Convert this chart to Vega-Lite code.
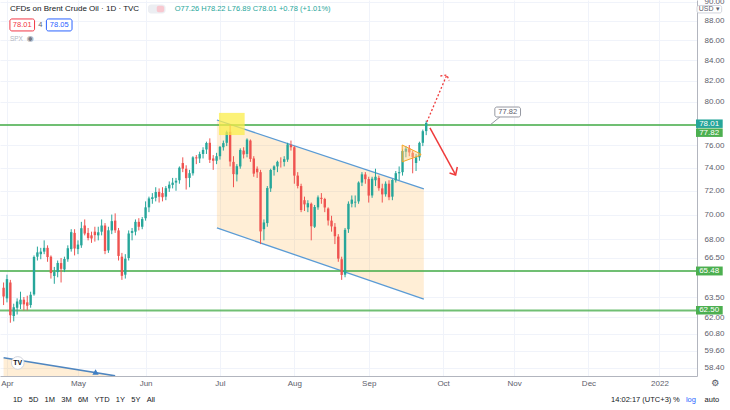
{
  "$schema": "https://vega.github.io/schema/vega-lite/v6.json",
  "width": 697,
  "height": 376,
  "autosize": "none",
  "padding": {"left": 0, "top": 0, "right": 33, "bottom": 34},
  "background": "white",
  "config": {"view": {"stroke": null}, "font": "Liberation Sans"},
  "data": {"values": [{}]},
  "resolve": {"axis": {"x": "independent", "y": "independent"}},
  "datasets": {
    "candles": [
      {"bar": -1, "date": "2021-03-31", "o": 64.2, "h": 64.6, "l": 62.9, "c": 63.54},
      {"bar": 0, "date": "2021-04-01", "o": 63.4, "h": 65.2, "l": 63.1, "c": 64.86},
      {"bar": 1, "date": "2021-04-05", "o": 64.6, "h": 64.8, "l": 61.6, "c": 62.15},
      {"bar": 2, "date": "2021-04-06", "o": 62.1, "h": 63.0, "l": 61.7, "c": 62.74},
      {"bar": 3, "date": "2021-04-07", "o": 62.7, "h": 63.4, "l": 62.2, "c": 63.16},
      {"bar": 4, "date": "2021-04-08", "o": 62.95, "h": 63.9, "l": 62.6, "c": 63.3},
      {"bar": 5, "date": "2021-04-09", "o": 63.3, "h": 63.5, "l": 62.5, "c": 62.95},
      {"bar": 6, "date": "2021-04-12", "o": 63.1, "h": 63.6, "l": 62.5, "c": 62.85},
      {"bar": 7, "date": "2021-04-13", "o": 62.9, "h": 63.9, "l": 62.7, "c": 63.67},
      {"bar": 8, "date": "2021-04-14", "o": 63.7, "h": 66.7, "l": 63.6, "c": 66.58},
      {"bar": 9, "date": "2021-04-15", "o": 66.6, "h": 67.4, "l": 66.3, "c": 66.94},
      {"bar": 10, "date": "2021-04-16", "o": 66.8, "h": 67.3, "l": 66.4, "c": 67.0},
      {"bar": 11, "date": "2021-04-19", "o": 67.0, "h": 67.9, "l": 66.8, "c": 67.3},
      {"bar": 12, "date": "2021-04-20", "o": 67.3, "h": 67.5, "l": 66.2, "c": 66.57},
      {"bar": 13, "date": "2021-04-21", "o": 66.6, "h": 66.7, "l": 64.9, "c": 65.32},
      {"bar": 14, "date": "2021-04-22", "o": 65.1, "h": 65.8, "l": 64.5, "c": 65.4},
      {"bar": 15, "date": "2021-04-23", "o": 65.4, "h": 66.3, "l": 65.0, "c": 66.11},
      {"bar": 16, "date": "2021-04-26", "o": 66.1, "h": 66.5, "l": 64.6, "c": 65.65},
      {"bar": 17, "date": "2021-04-27", "o": 65.6, "h": 66.6, "l": 65.4, "c": 66.42},
      {"bar": 18, "date": "2021-04-28", "o": 66.4, "h": 67.5, "l": 66.2, "c": 67.27},
      {"bar": 19, "date": "2021-04-29", "o": 67.2, "h": 68.8, "l": 67.0, "c": 68.56},
      {"bar": 20, "date": "2021-04-30", "o": 68.5, "h": 68.8, "l": 66.7, "c": 67.25},
      {"bar": 21, "date": "2021-05-03", "o": 67.2, "h": 67.9, "l": 66.8, "c": 67.56},
      {"bar": 22, "date": "2021-05-04", "o": 67.5, "h": 69.4, "l": 67.3, "c": 68.88},
      {"bar": 23, "date": "2021-05-05", "o": 69.1, "h": 69.6, "l": 68.3, "c": 68.45},
      {"bar": 24, "date": "2021-05-06", "o": 68.5, "h": 68.9, "l": 67.9, "c": 68.09},
      {"bar": 25, "date": "2021-05-07", "o": 68.3, "h": 68.6, "l": 67.7, "c": 68.05},
      {"bar": 26, "date": "2021-05-10", "o": 68.6, "h": 69.0, "l": 67.8, "c": 68.32},
      {"bar": 27, "date": "2021-05-11", "o": 68.3, "h": 69.0, "l": 67.9, "c": 68.55},
      {"bar": 28, "date": "2021-05-12", "o": 68.6, "h": 69.6, "l": 68.3, "c": 69.1},
      {"bar": 29, "date": "2021-05-13", "o": 69.1, "h": 69.3, "l": 66.8, "c": 67.05},
      {"bar": 30, "date": "2021-05-14", "o": 67.1, "h": 69.0, "l": 66.9, "c": 68.71},
      {"bar": 31, "date": "2021-05-17", "o": 68.7, "h": 70.0, "l": 68.4, "c": 69.46},
      {"bar": 32, "date": "2021-05-18", "o": 69.5, "h": 70.1, "l": 68.5, "c": 68.71},
      {"bar": 33, "date": "2021-05-19", "o": 68.7, "h": 68.9, "l": 66.3, "c": 66.66},
      {"bar": 34, "date": "2021-05-20", "o": 66.6, "h": 66.9, "l": 64.8, "c": 65.11},
      {"bar": 35, "date": "2021-05-21", "o": 65.2, "h": 66.8, "l": 64.9, "c": 66.44},
      {"bar": 36, "date": "2021-05-24", "o": 66.5, "h": 68.7, "l": 66.3, "c": 68.46},
      {"bar": 37, "date": "2021-05-25", "o": 68.5, "h": 68.9, "l": 67.9, "c": 68.65},
      {"bar": 38, "date": "2021-05-26", "o": 68.6, "h": 69.6, "l": 68.3, "c": 69.4},
      {"bar": 39, "date": "2021-05-27", "o": 69.4, "h": 69.7, "l": 68.7, "c": 69.0},
      {"bar": 40, "date": "2021-05-28", "o": 69.0, "h": 69.8, "l": 68.8, "c": 69.63},
      {"bar": 41, "date": "2021-06-01", "o": 69.7, "h": 71.1, "l": 69.5, "c": 70.6},
      {"bar": 42, "date": "2021-06-02", "o": 70.6, "h": 71.5, "l": 70.2, "c": 71.35},
      {"bar": 43, "date": "2021-06-03", "o": 71.3, "h": 71.8, "l": 70.9, "c": 71.45},
      {"bar": 44, "date": "2021-06-04", "o": 71.4, "h": 72.3, "l": 71.1, "c": 71.89},
      {"bar": 45, "date": "2021-06-07", "o": 71.9, "h": 72.2, "l": 71.0, "c": 71.49},
      {"bar": 46, "date": "2021-06-08", "o": 71.8, "h": 72.3, "l": 71.1, "c": 71.45},
      {"bar": 47, "date": "2021-06-09", "o": 71.5, "h": 72.4, "l": 71.2, "c": 72.22},
      {"bar": 48, "date": "2021-06-10", "o": 72.2, "h": 72.8, "l": 71.9, "c": 72.52},
      {"bar": 49, "date": "2021-06-11", "o": 72.5, "h": 73.1, "l": 72.2, "c": 72.69},
      {"bar": 50, "date": "2021-06-14", "o": 72.7, "h": 73.1, "l": 72.0, "c": 72.86},
      {"bar": 51, "date": "2021-06-15", "o": 72.9, "h": 74.1, "l": 72.6, "c": 73.99},
      {"bar": 52, "date": "2021-06-16", "o": 74.4, "h": 74.9, "l": 73.6, "c": 73.9},
      {"bar": 53, "date": "2021-06-17", "o": 73.9, "h": 74.2, "l": 72.1, "c": 73.08},
      {"bar": 54, "date": "2021-06-18", "o": 73.1, "h": 73.8, "l": 72.3, "c": 73.51},
      {"bar": 55, "date": "2021-06-21", "o": 73.5, "h": 75.0, "l": 73.3, "c": 74.9},
      {"bar": 56, "date": "2021-06-22", "o": 74.9, "h": 75.1, "l": 74.3, "c": 74.81},
      {"bar": 57, "date": "2021-06-23", "o": 74.8, "h": 75.4, "l": 74.4, "c": 75.19},
      {"bar": 58, "date": "2021-06-24", "o": 75.2, "h": 75.8, "l": 74.8, "c": 75.56},
      {"bar": 59, "date": "2021-06-25", "o": 75.6, "h": 76.3, "l": 75.2, "c": 76.18},
      {"bar": 60, "date": "2021-06-28", "o": 76.2, "h": 76.6, "l": 74.4, "c": 74.68},
      {"bar": 61, "date": "2021-06-29", "o": 74.8, "h": 75.1, "l": 73.8, "c": 74.6},
      {"bar": 62, "date": "2021-06-30", "o": 74.6, "h": 75.3, "l": 74.3, "c": 75.0},
      {"bar": 63, "date": "2021-07-01", "o": 75.0, "h": 75.9, "l": 74.7, "c": 75.84},
      {"bar": 64, "date": "2021-07-02", "o": 75.8, "h": 76.4, "l": 75.5, "c": 76.17},
      {"bar": 65, "date": "2021-07-05", "o": 76.2, "h": 77.3, "l": 75.9, "c": 77.16},
      {"bar": 66, "date": "2021-07-06", "o": 77.2, "h": 77.84, "l": 74.1, "c": 74.53},
      {"bar": 67, "date": "2021-07-07", "o": 74.5, "h": 75.0, "l": 72.3, "c": 73.43},
      {"bar": 68, "date": "2021-07-08", "o": 73.4, "h": 74.3, "l": 72.8, "c": 74.12},
      {"bar": 69, "date": "2021-07-09", "o": 74.1, "h": 75.7, "l": 73.9, "c": 75.55},
      {"bar": 70, "date": "2021-07-12", "o": 75.5, "h": 75.8, "l": 74.8, "c": 75.16},
      {"bar": 71, "date": "2021-07-13", "o": 75.2, "h": 76.6, "l": 74.9, "c": 76.49},
      {"bar": 72, "date": "2021-07-14", "o": 76.4, "h": 76.5, "l": 74.5, "c": 74.76},
      {"bar": 73, "date": "2021-07-15", "o": 74.8, "h": 75.0, "l": 73.2, "c": 73.47},
      {"bar": 74, "date": "2021-07-16", "o": 73.9, "h": 74.1, "l": 73.1, "c": 73.59},
      {"bar": 75, "date": "2021-07-19", "o": 73.6, "h": 73.8, "l": 67.6, "c": 68.62},
      {"bar": 76, "date": "2021-07-20", "o": 68.8, "h": 69.6, "l": 67.9, "c": 69.35},
      {"bar": 77, "date": "2021-07-21", "o": 69.3, "h": 72.4, "l": 69.0, "c": 72.23},
      {"bar": 78, "date": "2021-07-22", "o": 72.2, "h": 73.9, "l": 71.9, "c": 73.79},
      {"bar": 79, "date": "2021-07-23", "o": 73.8, "h": 74.2, "l": 73.3, "c": 74.1},
      {"bar": 80, "date": "2021-07-26", "o": 74.1, "h": 74.6, "l": 73.6, "c": 74.5},
      {"bar": 81, "date": "2021-07-27", "o": 74.5, "h": 74.9, "l": 74.0, "c": 74.48},
      {"bar": 82, "date": "2021-07-28", "o": 74.5, "h": 75.0, "l": 74.1, "c": 74.74},
      {"bar": 83, "date": "2021-07-29", "o": 74.7, "h": 76.2, "l": 74.5, "c": 76.05},
      {"bar": 84, "date": "2021-07-30", "o": 76.0, "h": 76.4, "l": 75.5, "c": 75.8},
      {"bar": 85, "date": "2021-08-02", "o": 75.8, "h": 75.9, "l": 72.6, "c": 73.3},
      {"bar": 86, "date": "2021-08-03", "o": 73.3, "h": 73.6, "l": 72.2, "c": 72.41},
      {"bar": 87, "date": "2021-08-04", "o": 72.4, "h": 72.6, "l": 70.2, "c": 70.38},
      {"bar": 88, "date": "2021-08-05", "o": 71.2, "h": 71.5, "l": 70.3, "c": 70.85},
      {"bar": 89, "date": "2021-08-06", "o": 70.6, "h": 71.2, "l": 70.2, "c": 70.95},
      {"bar": 90, "date": "2021-08-09", "o": 70.9, "h": 71.0, "l": 67.9, "c": 69.04},
      {"bar": 91, "date": "2021-08-10", "o": 69.0, "h": 70.8, "l": 68.9, "c": 70.63},
      {"bar": 92, "date": "2021-08-11", "o": 70.6, "h": 71.6, "l": 70.4, "c": 71.44},
      {"bar": 93, "date": "2021-08-12", "o": 71.4, "h": 71.8, "l": 70.9, "c": 71.31},
      {"bar": 94, "date": "2021-08-13", "o": 71.3, "h": 71.4, "l": 70.2, "c": 70.59},
      {"bar": 95, "date": "2021-08-16", "o": 70.5, "h": 70.6, "l": 69.1, "c": 69.51},
      {"bar": 96, "date": "2021-08-17", "o": 69.5, "h": 69.9, "l": 68.6, "c": 69.03},
      {"bar": 97, "date": "2021-08-18", "o": 69.0, "h": 69.3, "l": 67.6, "c": 68.23},
      {"bar": 98, "date": "2021-08-19", "o": 68.2, "h": 68.4, "l": 66.2, "c": 66.45},
      {"bar": 99, "date": "2021-08-20", "o": 66.4, "h": 66.6, "l": 64.8, "c": 65.18},
      {"bar": 100, "date": "2021-08-23", "o": 65.2, "h": 68.9, "l": 65.0, "c": 68.75},
      {"bar": 101, "date": "2021-08-24", "o": 68.8, "h": 71.1, "l": 68.5, "c": 70.9},
      {"bar": 102, "date": "2021-08-25", "o": 70.9, "h": 71.6, "l": 70.6, "c": 71.25},
      {"bar": 103, "date": "2021-08-26", "o": 71.0, "h": 71.6, "l": 70.6, "c": 71.07},
      {"bar": 104, "date": "2021-08-27", "o": 71.1, "h": 72.8, "l": 70.9, "c": 72.7},
      {"bar": 105, "date": "2021-08-30", "o": 72.7, "h": 73.6, "l": 72.4, "c": 73.41},
      {"bar": 106, "date": "2021-08-31", "o": 73.4, "h": 73.6, "l": 72.6, "c": 72.99},
      {"bar": 107, "date": "2021-09-01", "o": 73.0, "h": 73.2, "l": 71.0, "c": 71.59},
      {"bar": 108, "date": "2021-09-02", "o": 71.6, "h": 73.2, "l": 71.4, "c": 73.03},
      {"bar": 109, "date": "2021-09-03", "o": 72.9, "h": 73.9, "l": 72.4, "c": 73.2},
      {"bar": 110, "date": "2021-09-06", "o": 73.1, "h": 73.3, "l": 72.0, "c": 72.22},
      {"bar": 111, "date": "2021-09-07", "o": 72.2, "h": 72.6, "l": 71.0, "c": 71.69},
      {"bar": 112, "date": "2021-09-08", "o": 71.7, "h": 72.8, "l": 71.5, "c": 72.6},
      {"bar": 113, "date": "2021-09-09", "o": 72.6, "h": 72.9, "l": 71.2, "c": 71.45},
      {"bar": 114, "date": "2021-09-10", "o": 71.5, "h": 73.0, "l": 71.2, "c": 72.92},
      {"bar": 115, "date": "2021-09-13", "o": 72.9, "h": 73.7, "l": 72.7, "c": 73.51},
      {"bar": 116, "date": "2021-09-14", "o": 73.5, "h": 74.1, "l": 72.9, "c": 73.6},
      {"bar": 117, "date": "2021-09-15", "o": 73.6, "h": 75.6, "l": 73.3, "c": 75.46},
      {"bar": 118, "date": "2021-09-16", "o": 75.4, "h": 75.9, "l": 74.9, "c": 75.67},
      {"bar": 119, "date": "2021-09-17", "o": 75.7, "h": 76.0, "l": 75.0, "c": 75.34},
      {"bar": 120, "date": "2021-09-20", "o": 75.3, "h": 75.5, "l": 73.5, "c": 74.92},
      {"bar": 121, "date": "2021-09-21", "o": 74.4, "h": 75.2, "l": 73.7, "c": 74.9},
      {"bar": 122, "date": "2021-09-22", "o": 74.9, "h": 76.3, "l": 74.6, "c": 76.19},
      {"bar": 123, "date": "2021-09-23", "o": 76.2, "h": 77.4, "l": 75.9, "c": 77.25},
      {"bar": 124, "date": "2021-09-24", "o": 77.26, "h": 78.22, "l": 76.89, "c": 78.01}
    ],
    "levels": [{"price": 77.82}, {"price": 65.48}, {"price": 62.5}],
    "channel": [
      {"bar": 62.1, "up": 78.28, "lo": 68.9},
      {"bar": 123.3, "up": 72.15, "lo": 63.35}
    ],
    "oldChannel": [
      {"bar": -1, "price": 59.1},
      {"bar": 32, "price": 57.85}
    ],
    "pennant": [
      {"bar": 116.9, "top": 76.0, "bot": 74.5},
      {"bar": 122.4, "top": 75.2, "bot": 75.1}
    ],
    "arrowDown": [
      {"seg": "shaft", "k": 1, "bar": 125.1, "price": 77.55},
      {"seg": "shaft", "k": 2, "bar": 132.7, "price": 73.36},
      {"seg": "head", "k": 1, "bar": 130.9, "price": 73.53},
      {"seg": "head", "k": 2, "bar": 132.7, "price": 73.36},
      {"seg": "head", "k": 3, "bar": 133.2, "price": 74.05}
    ],
    "arrowUp": [
      {"seg": "shaft", "k": 1, "bar": 124.2, "price": 78.1},
      {"seg": "shaft", "k": 2, "bar": 130.1, "price": 82.56},
      {"seg": "head", "k": 1, "bar": 128.2, "price": 82.46},
      {"seg": "head", "k": 2, "bar": 130.1, "price": 82.56},
      {"seg": "head", "k": 3, "bar": 130.8, "price": 82.01}
    ]
  },
  "layer": [
    {
      "data": {"name": "candles"},
      "mark": {"type": "rule", "strokeWidth": 1, "opacity": 0},
      "encoding": {
        "x": {
          "field": "bar",
          "type": "quantitative",
          "scale": {"domain": [-0.583, 202.62], "nice": false, "zero": false},
          "axis": {
            "title": null,
            "values": [0, 21, 41, 63, 85, 107, 129, 150, 172, 193],
            "labelExpr": "datum.value < 10 ? 'Apr' : datum.value < 30 ? 'May' : datum.value < 50 ? 'Jun' : datum.value < 70 ? 'Jul' : datum.value < 95 ? 'Aug' : datum.value < 115 ? 'Sep' : datum.value < 140 ? 'Oct' : datum.value < 160 ? 'Nov' : datum.value < 180 ? 'Dec' : '2022'",
            "ticks": false,
            "labelPadding": 3,
            "labelFontSize": 8,
            "labelColor": "#5d606b",
            "labelOverlap": false,
            "labelFlush": false,
            "labelBound": false,
            "grid": true,
            "gridColor": "#f0f3fa",
            "domainColor": "#b2b5be"
          }
        },
        "y": {
          "field": "l",
          "type": "quantitative",
          "scale": {"type": "log", "domain": [57.84, 90.21], "nice": false, "zero": false},
          "axis": {
            "orient": "right",
            "title": null,
            "values": [58.4, 59.6, 60.8, 62, 63.5, 66.5, 68, 70, 72, 74, 76, 80, 82, 84, 86, 88, 90],
            "format": ".2f",
            "ticks": false,
            "labelPadding": 7,
            "labelFontSize": 8,
            "labelColor": "#5d606b",
            "labelOverlap": false,
            "labelFlush": false,
            "labelBound": false,
            "grid": true,
            "gridColor": "#f0f3fa",
            "domainColor": "#b2b5be"
          }
        },
        "y2": {"field": "h"}
      }
    },
    {
      "data": {"name": "oldChannel"},
      "mark": {"type": "area", "color": "#ff9800", "opacity": 0.16, "clip": true},
      "encoding": {
        "x": {"field": "bar", "type": "quantitative", "axis": null},
        "y": {"field": "price", "type": "quantitative", "axis": null},
        "y2": {"datum": 56}
      }
    },
    {
      "data": {"name": "channel"},
      "mark": {"type": "area", "color": "#ff9800", "opacity": 0.16},
      "encoding": {
        "x": {"field": "bar", "type": "quantitative", "axis": null},
        "y": {"field": "up", "type": "quantitative", "axis": null},
        "y2": {"field": "lo"}
      }
    },
    {
      "data": {"name": "channel"},
      "mark": {"type": "line", "color": "#5a9bd5", "strokeWidth": 1.3},
      "encoding": {
        "x": {"field": "bar", "type": "quantitative", "axis": null},
        "y": {"field": "up", "type": "quantitative", "axis": null}
      }
    },
    {
      "data": {"name": "channel"},
      "mark": {"type": "line", "color": "#5a9bd5", "strokeWidth": 1.3},
      "encoding": {
        "x": {"field": "bar", "type": "quantitative", "axis": null},
        "y": {"field": "lo", "type": "quantitative", "axis": null}
      }
    },
    {
      "data": {"name": "oldChannel"},
      "mark": {"type": "line", "color": "#4f86c0", "strokeWidth": 1.5, "clip": true},
      "encoding": {
        "x": {"field": "bar", "type": "quantitative", "axis": null},
        "y": {"field": "price", "type": "quantitative", "axis": null}
      }
    },
    {
      "mark": {"type": "point", "shape": "triangle-up", "filled": true, "color": "#3f7fc4", "size": 40, "opacity": 1},
      "encoding": {
        "x": {"datum": 26.2, "type": "quantitative", "axis": null},
        "y": {"datum": 58.12, "type": "quantitative", "axis": null}
      }
    },
    {
      "data": {"name": "levels"},
      "mark": {"type": "rule", "color": "#4caf50", "strokeWidth": 2, "opacity": 0.8},
      "encoding": {
        "y": {"field": "price", "type": "quantitative", "axis": null}
      }
    },
    {
      "data": {"name": "candles"},
      "mark": {"type": "rule", "strokeWidth": 1, "clip": true},
      "encoding": {
        "x": {"field": "bar", "type": "quantitative", "axis": null},
        "y": {"field": "l", "type": "quantitative", "axis": null},
        "y2": {"field": "h"},
        "color": {"condition": {"test": "datum.o <= datum.c", "value": "#26a69a"}, "value": "#ef5350"}
      }
    },
    {
      "data": {"name": "candles"},
      "mark": {"type": "bar", "size": 2.4, "clip": true},
      "encoding": {
        "x": {"field": "bar", "type": "quantitative", "axis": null},
        "y": {"field": "o", "type": "quantitative", "axis": null},
        "y2": {"field": "c"},
        "color": {"condition": {"test": "datum.o <= datum.c", "value": "#26a69a"}, "value": "#ef5350"},
        "tooltip": [
          {"field": "date", "type": "nominal"},
          {"field": "o", "type": "quantitative"},
          {"field": "h", "type": "quantitative"},
          {"field": "l", "type": "quantitative"},
          {"field": "c", "type": "quantitative"}
        ]
      }
    },
    {
      "mark": {"type": "rect", "color": "#fbee4a", "opacity": 0.75},
      "encoding": {
        "x": {"datum": 62.7, "type": "quantitative", "axis": null},
        "x2": {"datum": 70.3},
        "y": {"datum": 78.94, "type": "quantitative", "axis": null},
        "y2": {"datum": 76.9}
      }
    },
    {
      "data": {"name": "pennant"},
      "mark": {"type": "area", "fill": "#ffcc80", "fillOpacity": 0.45, "stroke": "#f5a623", "strokeWidth": 1},
      "encoding": {
        "x": {"field": "bar", "type": "quantitative", "axis": null},
        "y": {"field": "top", "type": "quantitative", "axis": null},
        "y2": {"field": "bot"}
      }
    },
    {
      "data": {"name": "arrowDown"},
      "mark": {"type": "line", "color": "#ef3b3b", "strokeWidth": 1.5},
      "encoding": {
        "x": {"field": "bar", "type": "quantitative", "axis": null},
        "y": {"field": "price", "type": "quantitative", "axis": null},
        "detail": {"field": "seg"},
        "order": {"field": "k"}
      }
    },
    {
      "data": {"name": "arrowUp"},
      "mark": {"type": "line", "color": "#ef3b3b", "strokeWidth": 1.3, "strokeDash": [2, 2]},
      "encoding": {
        "x": {"field": "bar", "type": "quantitative", "axis": null},
        "y": {"field": "price", "type": "quantitative", "axis": null},
        "detail": {"field": "seg"},
        "order": {"field": "k"}
      }
    },
    {
      "mark": {"type": "rule", "color": "#9598a1", "strokeWidth": 1},
      "encoding": {
        "x": {"datum": 142.9, "type": "quantitative", "axis": null},
        "x2": {"datum": 145.8},
        "y": {"datum": 77.82, "type": "quantitative", "axis": null},
        "y2": {"datum": 78.56}
      }
    },
    {
      "mark": {"type": "rect", "fill": "white", "stroke": "#9598a1", "strokeWidth": 1, "cornerRadius": 2},
      "encoding": {
        "x": {"datum": 144.3, "type": "quantitative", "axis": null},
        "x2": {"datum": 151.9},
        "y": {"datum": 79.49, "type": "quantitative", "axis": null},
        "y2": {"datum": 78.56}
      }
    },
    {
      "mark": {"type": "text", "text": "77.82", "fontSize": 7.5, "color": "#5d606b", "align": "center", "baseline": "middle"},
      "encoding": {
        "x": {"datum": 148.1, "type": "quantitative", "axis": null},
        "y": {"datum": 79.02, "type": "quantitative", "axis": null}
      }
    },
    {
      "mark": {"type": "point", "shape": "circle", "filled": true, "fill": "white", "stroke": "#d1d4dc", "strokeWidth": 1, "size": 160, "opacity": 1},
      "encoding": {
        "x": {"datum": 3.2, "type": "quantitative", "axis": null},
        "y": {"datum": 58.74, "type": "quantitative", "axis": null}
      }
    },
    {
      "mark": {"type": "text", "text": "TV", "fontSize": 7, "fontWeight": "bold", "color": "#131722", "align": "center", "baseline": "middle"},
      "encoding": {
        "x": {"datum": 3.2, "type": "quantitative", "axis": null},
        "y": {"datum": 58.74, "type": "quantitative", "axis": null}
      }
    },
    {
      "mark": {"type": "rect", "color": "#26a69a"},
      "encoding": {
        "x": {"datum": 203.8, "type": "quantitative", "axis": null},
        "x2": {"datum": 211.7},
        "y": {"datum": 78.33, "type": "quantitative", "axis": null},
        "y2": {"datum": 77.55}
      }
    },
    {
      "mark": {"type": "text", "text": "78.01", "fontSize": 8, "color": "white", "align": "center", "baseline": "middle"},
      "encoding": {
        "x": {"datum": 207.7, "type": "quantitative", "axis": null},
        "y": {"datum": 77.94, "type": "quantitative", "axis": null}
      }
    },
    {
      "mark": {"type": "rect", "color": "#4caf50"},
      "encoding": {
        "x": {"datum": 203.8, "type": "quantitative", "axis": null},
        "x2": {"datum": 211.7},
        "y": {"datum": 77.5, "type": "quantitative", "axis": null},
        "y2": {"datum": 76.73}
      }
    },
    {
      "mark": {"type": "text", "text": "77.82", "fontSize": 8, "color": "white", "align": "center", "baseline": "middle"},
      "encoding": {
        "x": {"datum": 207.7, "type": "quantitative", "axis": null},
        "y": {"datum": 77.11, "type": "quantitative", "axis": null}
      }
    },
    {
      "mark": {"type": "rect", "color": "#4caf50"},
      "encoding": {
        "x": {"datum": 203.8, "type": "quantitative", "axis": null},
        "x2": {"datum": 211.7},
        "y": {"datum": 65.83, "type": "quantitative", "axis": null},
        "y2": {"datum": 65.14}
      }
    },
    {
      "mark": {"type": "text", "text": "65.48", "fontSize": 8, "color": "white", "align": "center", "baseline": "middle"},
      "encoding": {
        "x": {"datum": 207.7, "type": "quantitative", "axis": null},
        "y": {"datum": 65.48, "type": "quantitative", "axis": null}
      }
    },
    {
      "mark": {"type": "rect", "color": "#4caf50"},
      "encoding": {
        "x": {"datum": 203.8, "type": "quantitative", "axis": null},
        "x2": {"datum": 211.7},
        "y": {"datum": 62.83, "type": "quantitative", "axis": null},
        "y2": {"datum": 62.2}
      }
    },
    {
      "mark": {"type": "text", "text": "62.50", "fontSize": 8, "color": "white", "align": "center", "baseline": "middle"},
      "encoding": {
        "x": {"datum": 207.7, "type": "quantitative", "axis": null},
        "y": {"datum": 62.5, "type": "quantitative", "axis": null}
      }
    },
    {
      "mark": {"type": "rect", "fill": "white", "stroke": "#d1d4dc", "strokeWidth": 1, "cornerRadius": 2},
      "encoding": {
        "x": {"datum": 204.1, "type": "quantitative", "axis": null},
        "x2": {"datum": 211.4},
        "y": {"datum": 89.63, "type": "quantitative", "axis": null},
        "y2": {"datum": 88.84}
      }
    },
    {
      "mark": {"type": "text", "text": "USD ▾", "fontSize": 7, "color": "#5d606b", "align": "center", "baseline": "middle"},
      "encoding": {
        "x": {"datum": 207.7, "type": "quantitative", "axis": null},
        "y": {"datum": 89.23, "type": "quantitative", "axis": null}
      }
    },
    {
      "mark": {"type": "text", "text": "CFDs on Brent Crude Oil · 1D · TVC", "fontSize": 8, "color": "#131722", "align": "left", "baseline": "middle"},
      "encoding": {
        "x": {"datum": 0.87, "type": "quantitative", "axis": null},
        "y": {"datum": 89.26, "type": "quantitative", "axis": null}
      }
    },
    {
      "mark": {"type": "rect", "fill": "#eceef2", "cornerRadius": 3},
      "encoding": {
        "x": {"datum": 41.7, "type": "quantitative", "axis": null},
        "x2": {"datum": 46.9},
        "y": {"datum": 89.73, "type": "quantitative", "axis": null},
        "y2": {"datum": 88.78}
      }
    },
    {
      "mark": {"type": "rect", "fill": "#f8c8d0", "cornerRadius": 2},
      "encoding": {
        "x": {"datum": 44.3, "type": "quantitative", "axis": null},
        "x2": {"datum": 46.5},
        "y": {"datum": 89.6, "type": "quantitative", "axis": null},
        "y2": {"datum": 88.9}
      }
    },
    {
      "mark": {"type": "text", "text": "O77.26 H78.22 L76.89 C78.01 +0.78 (+1.01%)", "fontSize": 7.5, "color": "#26a69a", "align": "left", "baseline": "middle"},
      "encoding": {
        "x": {"datum": 49.6, "type": "quantitative", "axis": null},
        "y": {"datum": 89.26, "type": "quantitative", "axis": null}
      }
    },
    {
      "mark": {"type": "rect", "fill": "white", "stroke": "#f23645", "strokeWidth": 1, "cornerRadius": 2},
      "encoding": {
        "x": {"datum": 0.87, "type": "quantitative", "axis": null},
        "x2": {"datum": 8.16},
        "y": {"datum": 88.21, "type": "quantitative", "axis": null},
        "y2": {"datum": 86.97}
      }
    },
    {
      "mark": {"type": "text", "text": "78.01", "fontSize": 7.5, "color": "#f23645", "align": "center", "baseline": "middle"},
      "encoding": {
        "x": {"datum": 4.52, "type": "quantitative", "axis": null},
        "y": {"datum": 87.58, "type": "quantitative", "axis": null}
      }
    },
    {
      "mark": {"type": "text", "text": "4", "fontSize": 7.5, "color": "#5d606b", "align": "center", "baseline": "middle"},
      "encoding": {
        "x": {"datum": 9.9, "type": "quantitative", "axis": null},
        "y": {"datum": 87.58, "type": "quantitative", "axis": null}
      }
    },
    {
      "mark": {"type": "rect", "fill": "white", "stroke": "#2962ff", "strokeWidth": 1, "cornerRadius": 2},
      "encoding": {
        "x": {"datum": 11.66, "type": "quantitative", "axis": null},
        "x2": {"datum": 19.24},
        "y": {"datum": 88.21, "type": "quantitative", "axis": null},
        "y2": {"datum": 86.97}
      }
    },
    {
      "mark": {"type": "text", "text": "78.05", "fontSize": 7.5, "color": "#2962ff", "align": "center", "baseline": "middle"},
      "encoding": {
        "x": {"datum": 15.45, "type": "quantitative", "axis": null},
        "y": {"datum": 87.58, "type": "quantitative", "axis": null}
      }
    },
    {
      "mark": {"type": "text", "text": "SPX", "fontSize": 6.5, "color": "#b2b5be", "align": "left", "baseline": "middle"},
      "encoding": {
        "x": {"datum": 0.87, "type": "quantitative", "axis": null},
        "y": {"datum": 86.15, "type": "quantitative", "axis": null}
      }
    },
    {
      "mark": {"type": "text", "text": "◉", "font": "DejaVu Sans", "fontSize": 8, "color": "#787b86", "align": "center", "baseline": "middle"},
      "encoding": {
        "x": {"datum": 6.9, "type": "quantitative", "axis": null},
        "y": {"datum": 86.15, "type": "quantitative", "axis": null}
      }
    },
    {
      "mark": {"type": "text", "text": "⚙", "font": "DejaVu Sans", "fontSize": 9, "color": "#50535e", "align": "center", "baseline": "middle"},
      "encoding": {
        "x": {"datum": 209.5, "type": "quantitative", "axis": null},
        "y": {"datum": 57.37, "type": "quantitative", "axis": null}
      }
    },
    {
      "mark": {"type": "text", "text": "1D\u00a0\u00a0\u00a05D\u00a0\u00a0\u00a01M\u00a0\u00a0\u00a03M\u00a0\u00a0\u00a06M\u00a0\u00a0\u00a0YTD\u00a0\u00a0\u00a01Y\u00a0\u00a0\u00a05Y\u00a0\u00a0\u00a0All", "fontSize": 7.5, "color": "#131722", "align": "left", "baseline": "middle"},
      "encoding": {
        "x": {"datum": 1.75, "type": "quantitative", "axis": null},
        "y": {"datum": 56.22, "type": "quantitative", "axis": null}
      }
    },
    {
      "mark": {"type": "text", "text": "14:02:17 (UTC+3)", "fontSize": 7.5, "color": "#131722", "align": "right", "baseline": "middle"},
      "encoding": {
        "x": {"datum": 196.5, "type": "quantitative", "axis": null},
        "y": {"datum": 56.22, "type": "quantitative", "axis": null}
      }
    },
    {
      "mark": {"type": "text", "text": "%", "fontSize": 7.5, "color": "#131722", "align": "center", "baseline": "middle"},
      "encoding": {
        "x": {"datum": 197.96, "type": "quantitative", "axis": null},
        "y": {"datum": 56.22, "type": "quantitative", "axis": null}
      }
    },
    {
      "mark": {"type": "text", "text": "log", "fontSize": 7.5, "color": "#2962ff", "align": "center", "baseline": "middle"},
      "encoding": {
        "x": {"datum": 202.3, "type": "quantitative", "axis": null},
        "y": {"datum": 56.22, "type": "quantitative", "axis": null}
      }
    },
    {
      "mark": {"type": "text", "text": "auto", "fontSize": 7.5, "color": "#131722", "align": "center", "baseline": "middle"},
      "encoding": {
        "x": {"datum": 208.5, "type": "quantitative", "axis": null},
        "y": {"datum": 56.22, "type": "quantitative", "axis": null}
      }
    }
  ]
}
